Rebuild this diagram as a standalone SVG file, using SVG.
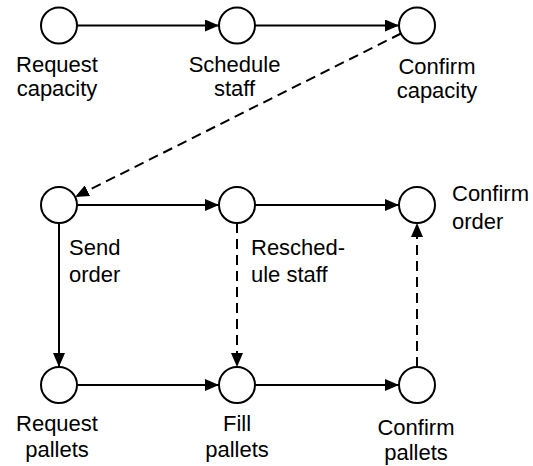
<svg xmlns="http://www.w3.org/2000/svg" width="533" height="466" viewBox="0 0 533 466">
<style>
.n{fill:#fff;stroke:#000;stroke-width:2}
.c{fill:none;stroke:#000;stroke-width:2}
.d{stroke-dasharray:10,6}
text{font-family:"Liberation Sans",Arial,sans-serif;font-size:22px;fill:#000}
.m{text-anchor:middle}
</style>
<defs>
<marker id="a" markerWidth="14" markerHeight="12" refX="14" refY="6" orient="auto" markerUnits="userSpaceOnUse"><path d="M0,0L14,6L0,12z" fill="#000"/></marker>
</defs>
<g id="connectors">
<line class="c" x1="77" y1="25.5" x2="219" y2="25.5" marker-end="url(#a)"/>
<line class="c" x1="255" y1="25.5" x2="399" y2="25.5" marker-end="url(#a)"/>
<line class="c d" x1="401" y1="33.5" x2="75" y2="197" marker-end="url(#a)"/>
<line class="c" x1="77" y1="205" x2="219" y2="205" marker-end="url(#a)"/>
<line class="c" x1="255" y1="205" x2="399" y2="205" marker-end="url(#a)"/>
<line class="c" x1="59" y1="223" x2="59" y2="367" marker-end="url(#a)"/>
<line class="c d" x1="237" y1="223" x2="237" y2="367" marker-end="url(#a)"/>
<line class="c d" x1="417" y1="367" x2="417" y2="223" marker-end="url(#a)"/>
<line class="c" x1="77" y1="385" x2="219" y2="385" marker-end="url(#a)"/>
<line class="c" x1="255" y1="385" x2="399" y2="385" marker-end="url(#a)"/>
</g>
<g id="request-capacity"><circle class="n" cx="59" cy="25.5" r="18"/><text class="m" x="57" y="72">Request</text><text class="m" x="57" y="96">capacity</text></g>
<g id="schedule-staff"><circle class="n" cx="237" cy="25.5" r="18"/><text class="m" x="234.5" y="72">Schedule</text><text class="m" x="234.5" y="96">staff</text></g>
<g id="confirm-capacity"><circle class="n" cx="417" cy="25.5" r="18"/><text class="m" x="437" y="74">Confirm</text><text class="m" x="437" y="98">capacity</text></g>
<g id="send-order"><circle class="n" cx="59" cy="205" r="18"/><text x="69" y="255">Send</text><text x="69" y="282">order</text></g>
<g id="reschedule-staff"><circle class="n" cx="237" cy="205" r="18"/><text x="251" y="255">Resched-</text><text x="251" y="282">ule staff</text></g>
<g id="confirm-order"><circle class="n" cx="417" cy="205" r="18"/><text x="452" y="201">Confirm</text><text x="452" y="229">order</text></g>
<g id="request-pallets"><circle class="n" cx="59" cy="385" r="18"/><text class="m" x="57" y="431">Request</text><text class="m" x="57" y="457">pallets</text></g>
<g id="fill-pallets"><circle class="n" cx="237" cy="385" r="18"/><text class="m" x="237" y="431">Fill</text><text class="m" x="237" y="457">pallets</text></g>
<g id="confirm-pallets"><circle class="n" cx="417" cy="385" r="18"/><text class="m" x="416" y="435">Confirm</text><text class="m" x="416" y="460">pallets</text></g>
</svg>
